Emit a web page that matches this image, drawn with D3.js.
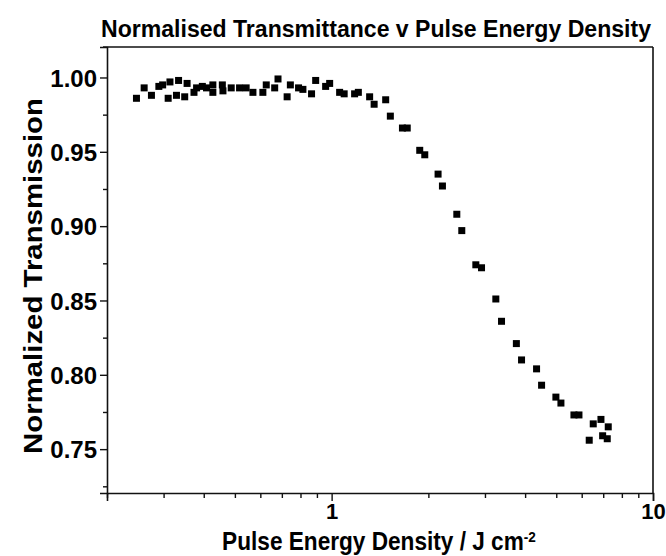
<!DOCTYPE html>
<html>
<head>
<meta charset="utf-8">
<script src="https://cdn.jsdelivr.net/npm/d3@7"></script>
<style>
  html, body { margin: 0; padding: 0; background: #fff; }
  svg { display: block; }
  text { font-family: "Liberation Sans", Arial, Helvetica, sans-serif; font-weight: bold; fill: #000; }
</style>
</head>
<body>
<svg id="chart" width="666" height="556"></svg>
<script>
// ---- data ----
const energy = [0.247,0.261,0.275,0.290,0.298,0.310,0.314,0.329,0.334,0.349,0.355,0.373,0.380,0.396,0.408,0.427,0.427,0.457,0.459,0.487,0.517,0.542,0.569,0.611,0.626,0.665,0.681,0.727,0.744,0.789,0.814,0.866,0.892,0.958,0.986,1.059,1.094,1.179,1.211,1.313,1.356,1.473,1.523,1.661,1.719,1.880,1.949,2.144,2.212,2.452,2.541,2.810,2.927,3.243,3.378,3.757,3.899,4.342,4.501,4.987,5.170,5.675,5.883,6.332,6.517,6.887,6.971,7.205,7.257];
const transmission = [0.986,0.993,0.988,0.994,0.995,0.986,0.997,0.988,0.998,0.987,0.996,0.990,0.993,0.994,0.993,0.995,0.990,0.995,0.991,0.993,0.993,0.993,0.990,0.990,0.995,0.993,0.999,0.987,0.995,0.993,0.992,0.989,0.998,0.994,0.996,0.990,0.989,0.989,0.990,0.987,0.982,0.985,0.974,0.966,0.966,0.951,0.948,0.935,0.927,0.908,0.897,0.874,0.872,0.851,0.836,0.821,0.810,0.804,0.793,0.785,0.781,0.773,0.773,0.756,0.767,0.770,0.759,0.757,0.765];
const xMajorTicks = [1, 10];
const xMinorTicks = [0.2,0.3,0.4,0.5,0.6,0.7,0.8,0.9,2,3,4,5,6,7,8,9];
const yMajorTicks = [0.75,0.80,0.85,0.90,0.95,1.00];
const yMinorTicks = [0.725,0.775,0.825,0.875,0.925,0.975];
const xDomain = [0.2, 10];
const yDomain = [0.7205, 1.0205];
const titleText = "Normalised Transmittance v Pulse Energy Density";
const xTitle = "Pulse Energy Density / J cm";
const xTitleSup = "-2";
const yTitle = "Normalized Transmission";

// ---- layout ----
const svg = d3.select("#chart");
const L = 107, R = 653, T = 47, B = 493;
const x = d3.scaleLog().domain(xDomain).range([L, R]);
const y = d3.scaleLinear().domain(yDomain).range([B, T]);

// helper: horizontally fit text to a target width
function fitX(sel, targetW) {
  const bb = sel.node().getBBox();
  const sx = targetW / bb.width;
  const tr = sel.attr("transform") || "";
  sel.attr("transform", tr + ` scale(${sx},1)`);
}

// frame (top and right)
svg.append("line").attr("x1", L - 4).attr("x2", R).attr("y1", T).attr("y2", T)
  .attr("stroke", "#111").attr("stroke-width", 1.6);
svg.append("line").attr("x1", R).attr("x2", R).attr("y1", T).attr("y2", B)
  .attr("stroke", "#111").attr("stroke-width", 1.6);

// x axis
const gx = svg.append("g").attr("transform", `translate(0,${B})`)
  .call(d3.axisBottom(x).tickValues(xMajorTicks).tickFormat(d3.format("d")).tickSizeOuter(0).tickSize(8).tickPadding(2));
svg.append("g").attr("transform", `translate(0,${B})`)
  .call(d3.axisBottom(x).tickValues(xMinorTicks).tickFormat("").tickSizeOuter(0).tickSize(5))
  .select(".domain").remove();
// y axis
const gy = svg.append("g").attr("transform", `translate(${L},0)`)
  .call(d3.axisLeft(y).tickValues(yMajorTicks).tickFormat(d3.format(".2f")).tickSizeOuter(0).tickSize(7).tickPadding(3));
svg.append("g").attr("transform", `translate(${L},0)`)
  .call(d3.axisLeft(y).tickValues(yMinorTicks).tickFormat("").tickSizeOuter(0).tickSize(4))
  .select(".domain").remove();

svg.selectAll(".domain").attr("stroke", "#111").attr("stroke-width", 1.6);
svg.selectAll(".tick line").attr("stroke", "#111").attr("stroke-width", 1.4);
gx.selectAll(".tick text").style("font-size", "22px").attr("fill", "#000").attr("dy", "0.71em");
gy.selectAll(".tick text").style("font-size", "24px").attr("fill", "#000").attr("dy", "0.36em");

// points
const s = 7;
svg.append("g").selectAll("rect")
  .data(energy.map((e, i) => [e, transmission[i]]))
  .join("rect")
  .attr("x", d => x(d[0]) - s / 2)
  .attr("y", d => y(d[1]) - s / 2)
  .attr("width", s).attr("height", s)
  .attr("fill", "#000");

// title
const t = svg.append("text").attr("text-anchor", "middle")
  .attr("transform", "translate(376,37)")
  .style("font-size", "24px").text(titleText);
fitX(t, 551);

// x title
const xt = svg.append("text").attr("text-anchor", "middle")
  .attr("transform", "translate(379,550)")
  .style("font-size", "25px");
xt.append("tspan").text(xTitle);
xt.append("tspan").attr("dy", "-0.55em").style("font-size", "15px").text(xTitleSup);
fitX(xt, 314);

// y title
const yt = svg.append("text").attr("text-anchor", "middle")
  .attr("transform", "translate(42,276) rotate(-90)")
  .style("font-size", "26px").text(yTitle);
fitX(yt, 356);
</script>
</body>
</html>
